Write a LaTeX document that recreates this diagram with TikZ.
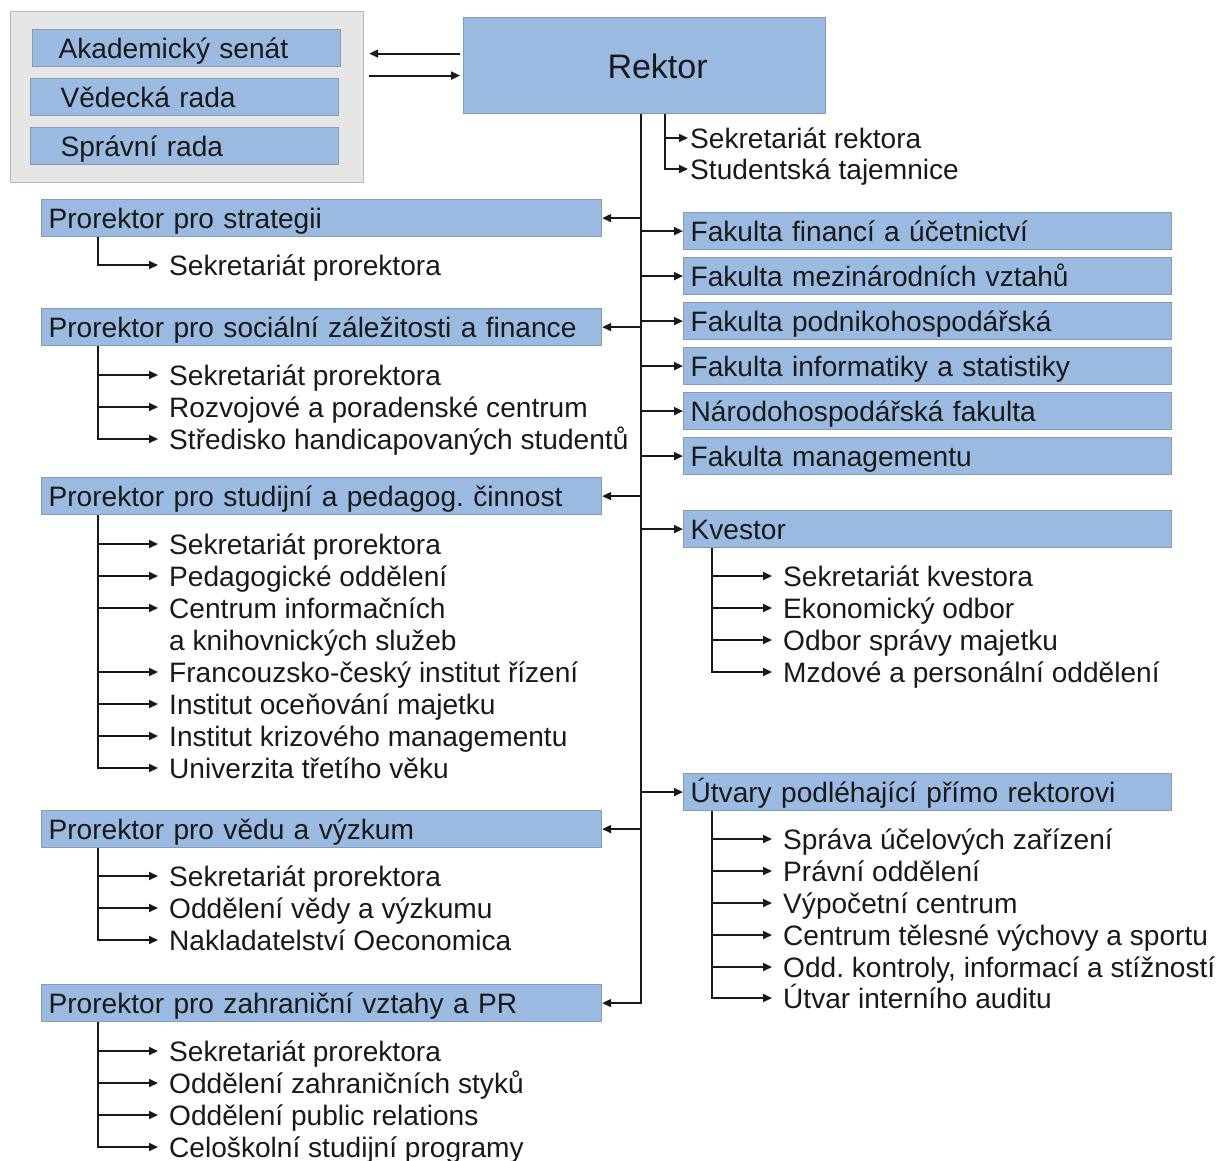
\documentclass[tikz,border=0pt]{standalone}
\usepackage{fontspec}
\setmainfont{Liberation Sans}
\usetikzlibrary{arrows.meta,calc}
\definecolor{bf}{RGB}{155,186,225}
\definecolor{bd}{RGB}{135,155,185}
\definecolor{pf}{RGB}{230,230,228}
\definecolor{pd}{RGB}{175,185,205}
\definecolor{ink}{RGB}{25,25,25}
\frenchspacing
\begin{document}
\begin{tikzpicture}[x=1pt,y=-1pt,
 fnt/.style={font=\fontsize{28.1}{32}\selectfont, text=ink},
 box/.style={fnt, draw=bd, fill=bf, line width=1.2pt, anchor=north west, inner xsep=7pt, inner ysep=0pt, text height=20pt, text depth=0pt, minimum height=37pt, align=left},
 lbox/.style={box, minimum width=560pt, text width=546pt},
 rbox/.style={box, minimum width=488pt, text width=474pt},
 item/.style={fnt, inner sep=0pt, text height=20pt, text depth=0pt, anchor=west},
 arr/.style={draw=ink, line width=2pt, -{Triangle[length=9pt,width=8pt]}},
 ln/.style={draw=ink, line width=2pt}]
\useasboundingbox (0,0) rectangle (1224,1160);

% top-left panel
\node[draw=pd, fill=pf, line width=1.2pt, anchor=north west, minimum width=353pt, minimum height=171pt, inner sep=0pt] (panel) at (10,11) {};
\node[box, inner xsep=26pt, minimum width=308pt, text width=256pt] (as) at (32,29) {Akademický senát};
\node[box, inner xsep=30pt, minimum width=308pt, text width=248pt] (vr) at (30,78) {Vědecká rada};
\node[box, inner xsep=30pt, minimum width=308pt, text width=248pt] (spr) at (30,127) {Správní rada};

% Rektor
\node[box, font=\fontsize{34}{40}\selectfont, minimum width=362pt, minimum height=96pt, text width=348pt, align=center, text height=25pt] (rek) at (463,17) {\hspace*{26pt}Rektor};

\draw[arr] ($(rek.west)+(-3,-12)$) -- ($(panel.east |- rek.west)+(5,-12)$);
\draw[arr] ($(panel.east |- rek.west)+(5,10)$) -- ($(rek.west)+(-3,10)$);

% Rektor secretariats
\coordinate (sp2) at (665,0);
\node[item] (sr) at (690,138) {Sekretariát rektora};
\node[item] (st) at (690,169) {Studentská tajemnice};
\draw[arr] (rek.south -| sp2) |- ([xshift=-2pt]sr.west);
\draw[arr] (rek.south -| sp2) |- ([xshift=-2pt]st.west);

% left prorektor boxes
\node[lbox] (pstr) at (41,199) {Prorektor pro strategii};
\node[lbox] (psoc) at (41,308) {Prorektor pro sociální záležitosti a finance};
\node[lbox] (pstu) at (41,477) {Prorektor pro studijní a pedagog. činnost};
\node[lbox] (pved) at (41,810) {Prorektor pro vědu a výzkum};
\node[lbox] (pzah) at (41,984) {Prorektor pro zahraniční vztahy a PR};

% right boxes
\node[rbox] (ff) at (683,212) {Fakulta financí a účetnictví};
\node[rbox] (fm) at (683,257) {Fakulta mezinárodních vztahů};
\node[rbox] (fp) at (683,302) {Fakulta podnikohospodářská};
\node[rbox] (fi) at (683,347) {Fakulta informatiky a statistiky};
\node[rbox] (fn) at (683,392) {Národohospodářská fakulta};
\node[rbox] (fmg) at (683,437) {Fakulta managementu};
\node[rbox] (kv) at (683,510) {Kvestor};
\node[rbox] (ut) at (683,773) {Útvary podléhající přímo rektorovi};

% main spine
\coordinate (sp) at (641,0);
\draw[arr] (rek.south -| sp) |- (pzah.east);
\foreach \n in {pstr,psoc,pstu,pved}{\draw[arr] (sp |- \n.east) -- (\n.east);}
\foreach \n in {ff,fm,fp,fi,fn,fmg,kv,ut}{\draw[arr] (sp |- \n.west) -- (\n.west);}

% items: strategie
\node[item] (a1) at (169,265) {Sekretariát prorektora};
\draw[arr] ([xshift=57pt]pstr.south west) |- ([xshift=-11pt]a1.west);

% items: socialni
\node[item] (b1) at (169,375) {Sekretariát prorektora};
\node[item] (b2) at (169,407) {Rozvojové a poradenské centrum};
\node[item] (b3) at (169,439) {Středisko handicapovaných studentů};
\foreach \n in {b1,b2,b3}{\draw[arr] ([xshift=57pt]psoc.south west) |- ([xshift=-11pt]\n.west);}

% items: studijni
\node[item] (c1) at (169,544) {Sekretariát prorektora};
\node[item] (c2) at (169,576) {Pedagogické oddělení};
\node[item] (c3) at (169,608) {Centrum informačních};
\node[item] (c3b) at (169,640) {a knihovnických služeb};
\node[item] (c4) at (169,672) {Francouzsko-český institut řízení};
\node[item] (c5) at (169,704) {Institut oceňování majetku};
\node[item] (c6) at (169,736) {Institut krizového managementu};
\node[item] (c7) at (169,768) {Univerzita třetího věku};
\foreach \n in {c1,c2,c3,c4,c5,c6,c7}{\draw[arr] ([xshift=57pt]pstu.south west) |- ([xshift=-11pt]\n.west);}

% items: veda
\node[item] (d1) at (169,876) {Sekretariát prorektora};
\node[item] (d2) at (169,908) {Oddělení vědy a výzkumu};
\node[item] (d3) at (169,940) {Nakladatelství Oeconomica};
\foreach \n in {d1,d2,d3}{\draw[arr] ([xshift=57pt]pved.south west) |- ([xshift=-11pt]\n.west);}

% items: zahranici
\node[item] (e1) at (169,1051) {Sekretariát prorektora};
\node[item] (e2) at (169,1083) {Oddělení zahraničních styků};
\node[item] (e3) at (169,1115) {Oddělení public relations};
\node[item] (e4) at (169,1147) {Celoškolní studijní programy};
\foreach \n in {e1,e2,e3,e4}{\draw[arr] ([xshift=57pt]pzah.south west) |- ([xshift=-11pt]\n.west);}

% items: kvestor
\node[item] (k1) at (783,576) {Sekretariát kvestora};
\node[item] (k2) at (783,608) {Ekonomický odbor};
\node[item] (k3) at (783,640) {Odbor správy majetku};
\node[item] (k4) at (783,672) {Mzdové a personální oddělení};
\foreach \n in {k1,k2,k3,k4}{\draw[arr] ([xshift=29pt]kv.south west) |- ([xshift=-11pt]\n.west);}

% items: utvary
\node[item] (u1) at (783,839) {Správa účelových zařízení};
\node[item] (u2) at (783,871) {Právní oddělení};
\node[item] (u3) at (783,903) {Výpočetní centrum};
\node[item] (u4) at (783,935) {Centrum tělesné výchovy a sportu};
\node[item] (u5) at (783,967) {Odd. kontroly, informací a stížností};
\node[item] (u6) at (783,998) {Útvar interního auditu};
\foreach \n in {u1,u2,u3,u4,u5,u6}{\draw[arr] ([xshift=29pt]ut.south west) |- ([xshift=-11pt]\n.west);}
\end{tikzpicture}
\end{document}
